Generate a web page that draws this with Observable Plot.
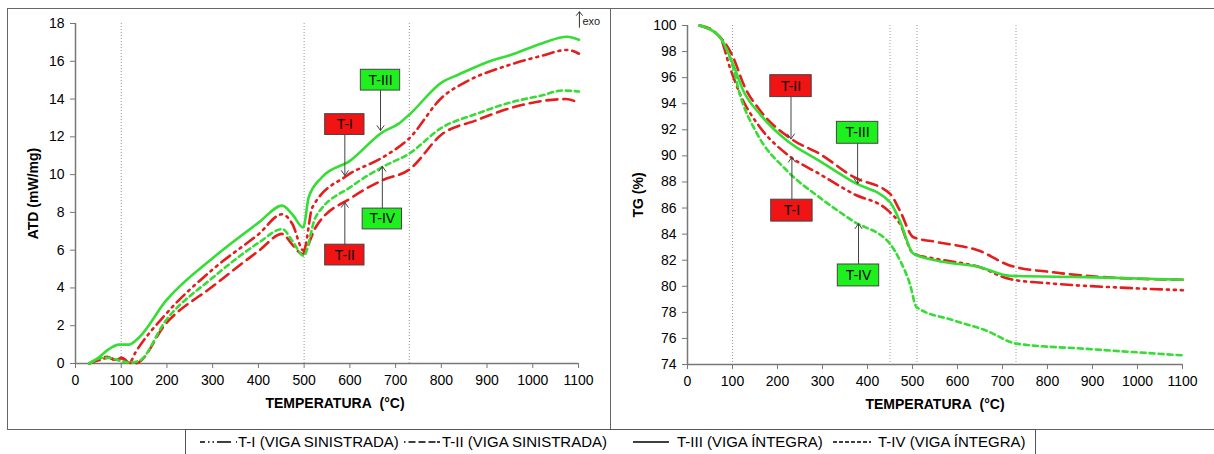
<!DOCTYPE html>
<html>
<head>
<meta charset="utf-8">
<script src="https://cdn.jsdelivr.net/npm/d3@7"></script>
<script src="https://cdn.jsdelivr.net/npm/@observablehq/plot@0.6"></script>
<style>
  body { margin: 0; background: #fff; font-family: "Liberation Sans", Arial, sans-serif; }
  #wrap { position: relative; width: 1214px; height: 454px; overflow: hidden; }
  .abs { position: absolute; }
  #frame { left: 7px; top: 8px; width: 1220px; height: 422px; border: 1.5px solid #666; box-sizing: border-box; }
  #divider { left: 610px; top: 8px; width: 0; height: 422px; border-left: 1.5px solid #666; }
  #legend { left: 185px; top: 429px; width: 851px; height: 30px; border: 1.5px solid #555; box-sizing: border-box; font-size: 15px; color: #000; }
  .lg { position: absolute; top: 3px; white-space: nowrap; line-height: 18px; }
  .ls { position: absolute; top: 6px; }
</style>
</head>
<body>
<div id="wrap">
  <div id="frame" class="abs"></div>
  <div id="divider" class="abs"></div>
  <div id="left" class="abs" style="left:8px;top:9px"></div>
  <div id="right" class="abs" style="left:612px;top:9px"></div>
  <div id="legend" class="abs"></div>
</div>
<script>
// ---------- data ----------
const xTicks = [0,100,200,300,400,500,600,700,800,900,1000,1100];
const atdTicks = [0,2,4,6,8,10,12,14,16,18];
const tgTicks = [74,76,78,80,82,84,86,88,90,92,94,96,98,100];
const atdGuides = [100,500,730];
const tgGuides = [100,450,510,730];

const seriesNames = ["T-I (VIGA SINISTRADA)","T-II (VIGA SINISTRADA)","T-III (VIGA ÍNTEGRA)","T-IV (VIGA ÍNTEGRA)"];

// ATD (mW/mg) vs temperature (°C)
const atdT1 = [[30,0],[55,0.2],[72,0.3],[90,0.2],[102,0.3],[118,0.05],[131,0.58],[197,2.6],[301,5.0],[401,6.86],[452,7.9],[474,7.4],[499,5.97],[518,8.27],[594,9.95],[671,10.9],[729,11.9],[802,14.1],[853,14.9],[948,15.8],[1021,16.3],[1075,16.6],[1101,16.4]];
const atdT2 = [[30,0],[70,0.35],[85,0.2],[100,0.3],[115,0.05],[132,0.02],[197,2.1],[301,4.1],[401,5.97],[452,6.86],[474,6.3],[496,5.8],[525,7.2],[605,8.8],[671,9.7],[729,10.25],[802,12.15],[875,12.86],[948,13.5],[1021,13.9],[1072,14.0],[1101,13.8]];
const atdT3 = [[30,0],[50,0.3],[73,0.76],[95,1.0],[117,1.0],[139,1.38],[197,3.3],[301,5.6],[401,7.47],[452,8.36],[474,7.9],[498,7.2],[510,8.8],[539,9.86],[601,10.74],[671,12.24],[707,12.7],[731,13.2],[802,14.9],[838,15.3],[911,16.04],[948,16.3],[1021,16.96],[1075,17.3],[1101,17.14]];
const atdT4 = [[30,0],[58,0.3],[73,0.3],[98,0.14],[117,0.05],[139,0.14],[197,2.26],[301,4.56],[401,6.4],[452,7.12],[474,6.5],[499,5.7],[525,7.74],[605,9.4],[671,10.4],[729,11.1],[802,12.5],[875,13.2],[948,13.8],[1021,14.2],[1064,14.45],[1101,14.4]];

// TG (%) vs temperature (°C)
const tgT1 = [[27,100],[72,99.1],[94,96.8],[120,94.5],[161,92.2],[220,90.15],[294,88.6],[368,87.1],[446,85.8],[472,84.8],[502,82.5],[553,82.1],[650,81.46],[716,80.55],[813,80.2],[961,79.9],[1101,79.7]];
const tgT2 = [[27,100],[57,99.6],[101,97.6],[127,95.3],[161,93.5],[235,91.2],[294,90.15],[368,88.4],[450,87.1],[472,85.8],[502,83.76],[553,83.4],[650,82.7],[716,81.6],[813,81.07],[924,80.7],[1101,80.5]];
const tgT3 = [[27,100],[72,99.1],[101,97.06],[124,95.0],[161,93.2],[220,91.2],[294,89.6],[368,88.0],[450,86.45],[472,85.0],[502,82.5],[553,81.97],[650,81.46],[716,80.8],[887,80.7],[1101,80.5]];
const tgT4 = [[27,100],[72,99.1],[101,96.8],[116,94.76],[153,91.8],[220,88.9],[294,86.8],[368,85.0],[450,83.25],[472,82.0],[494,80.2],[509,78.4],[590,77.4],[664,76.6],[731,75.6],[887,75.2],[1101,74.7]];

// annotation labels: box centre (x, y) and arrow tip (tip)
const atdLabels = [
  {label:"T-III", x:667, y:15.0, tip:12.33},
  {label:"T-I",   x:589, y:12.65, tip:9.95},
  {label:"T-IV",  x:671, y:7.65, tip:10.44},
  {label:"T-II",  x:589, y:5.74, tip:8.53}
];
const tgLabels = [
  {label:"T-II",  x:230, y:95.35, tip:91.3},
  {label:"T-III", x:378, y:91.77, tip:87.86},
  {label:"T-I",   x:232, y:85.8, tip:89.9},
  {label:"T-IV",  x:380, y:80.83, tip:84.8}
];

// ---------- styles ----------
const RED = "#e41e1c", GREEN = "#35dd35";
const RED_BOX = "#f01414", GREEN_BOX = "#1ef01e";
const styles = [
  {stroke: RED,   dash: "11,5,2,5,2,5"},
  {stroke: RED,   dash: "11,6"},
  {stroke: GREEN, dash: null},
  {stroke: GREEN, dash: "5,4"}
];
const FONT = '"Liberation Sans", Arial, sans-serif';
const boxFill = l => (l === "T-I" || l === "T-II") ? RED_BOX : GREEN_BOX;

function lines(sets) {
  return sets.map((s, i) => Plot.line(s, {
    x: d => d[0], y: d => d[1], stroke: styles[i].stroke, strokeWidth: 2.6,
    strokeDasharray: styles[i].dash, curve: "monotone-x"
  }));
}

function annotations(labels, hw, hh) {
  return [
    Plot.arrow(labels, {
      x1: d => d.x, x2: d => d.x,
      y1: d => d.tip < d.y ? d.y - hh : d.y + hh, y2: d => d.tip,
      stroke: "#444", strokeWidth: 1, headLength: 9, headAngle: 70
    }),
    Plot.rect(labels, {
      x1: d => d.x - hw, x2: d => d.x + hw, y1: d => d.y - hh, y2: d => d.y + hh,
      fill: d => boxFill(d.label), stroke: "#444", strokeWidth: 1
    }),
    Plot.text(labels, {x: "x", y: "y", text: "label", fill: "#000", fontSize: 14})
  ];
}

function makePlot(opts) {
  return Plot.plot({
    width: 602, height: 420,
    marginLeft: opts.ml, marginRight: 32, marginTop: opts.mt, marginBottom: opts.mb,
    style: {fontFamily: FONT, fontSize: "14px", color: "#000", background: "transparent"},
    x: {domain: [0, 1100], ticks: xTicks, label: null},
    y: {domain: opts.yDomain, ticks: opts.yTicks, label: null},
    marks: [
      Plot.ruleX(opts.guides, {stroke: "#999", strokeDasharray: "1,2", strokeWidth: 1}),
      Plot.axisX({ticks: xTicks, tickSize: 5, tickPadding: 7, tickFormat: d => String(d), stroke: "#777", fill: "#000", label: null}),
      Plot.axisY({ticks: opts.yTicks, tickSize: 5, tickPadding: 6, tickFormat: d => String(d), stroke: "#777", fill: "#000", label: null}),
      Plot.ruleX([0], {stroke: "#777", strokeWidth: 1.5}),
      Plot.ruleY([opts.yDomain[0]], {stroke: "#777", strokeWidth: 1.5}),
      ...lines(opts.sets),
      ...annotations(opts.labels, opts.hw, opts.hh),
      Plot.text(["TEMPERATURA\u00a0 (°C)"], {text: d => d, frameAnchor: "bottom", dy: 40, dx: opts.tdx,
        textAnchor: "middle", lineAnchor: "middle", fontWeight: "bold", fontSize: 14}),
      Plot.text([opts.yTitle], {text: d => d, frameAnchor: "left", dx: opts.ydx, rotate: -90,
        textAnchor: "middle", lineAnchor: "middle", fontWeight: "bold", fontSize: 14}),
      ...(opts.extra || [])
    ]
  });
}

const exo = [{x: 1102, y1: 17.8, y2: 18.62, ty: 18.12, t: "exo"}];

document.getElementById("left").appendChild(makePlot({
  ml: 67, mt: 14, mb: 66, yDomain: [0, 18], yTicks: atdTicks, guides: atdGuides,
  sets: [atdT1, atdT2, atdT3, atdT4], labels: atdLabels, hw: 43, hh: 0.55,
  tdx: 8, ydx: -42, yTitle: "ATD (mW/mg)",
  extra: [
    Plot.arrow(exo, {x1: "x", x2: "x", y1: "y1", y2: "y2", stroke: "#333", strokeWidth: 1, headLength: 7, headAngle: 80}),
    Plot.text(exo, {x: "x", y: "ty", text: "t", dx: 3, textAnchor: "start", fontSize: 11, fill: "#222"})
  ]
}));

document.getElementById("right").appendChild(makePlot({
  ml: 75, mt: 16, mb: 65, yDomain: [74, 100], yTicks: tgTicks, guides: tgGuides,
  sets: [tgT1, tgT2, tgT3, tgT4], labels: tgLabels, hw: 46, hh: 0.84,
  tdx: 0, ydx: -49, yTitle: "TG (%)"
}));

// ---------- legend ----------
const legendDash = ["5,3,1.5,3,1.5,3,14", "1.5,3,7,3,7,3,7", null, "4,2"];
const legendPos = [[14, 37, 52], [218, 37, 256], [447, 36, 491], [647, 38, 692]]; // [sampleX, sampleW, textX] inside legend box
const legend = document.getElementById("legend");
seriesNames.forEach((name, i) => {
  const [sx, sw, tx] = legendPos[i];
  const svg = d3.create("svg").attr("width", sw).attr("height", 10)
    .attr("class", "ls").style("left", sx + "px");
  svg.append("line").attr("x1", 0).attr("x2", sw).attr("y1", 6).attr("y2", 6)
    .attr("stroke", "#000").attr("stroke-width", 1.5)
    .attr("stroke-dasharray", legendDash[i]);
  legend.appendChild(svg.node());
  const span = document.createElement("span");
  span.className = "lg";
  span.style.left = tx + "px";
  span.textContent = name;
  legend.appendChild(span);
});
</script>
</body>
</html>
